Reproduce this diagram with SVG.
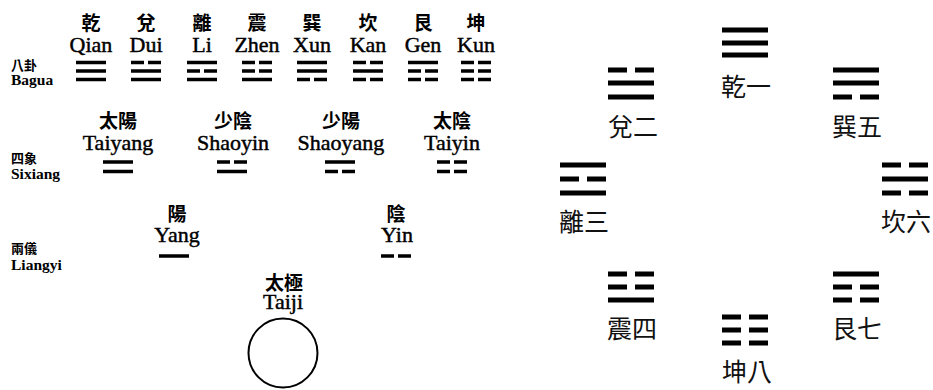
<svg xmlns="http://www.w3.org/2000/svg" xmlns:xlink="http://www.w3.org/1999/xlink" width="933" height="390" viewBox="0 0 933 390">
<style>
.zh{font-family:"Noto Sans CJK TC","Noto Sans CJK SC",sans-serif;font-weight:bold;font-size:19px;text-anchor:middle;fill:#000}
.en{font-family:"Liberation Serif",serif;font-size:22px;text-anchor:middle;fill:#000;stroke:#000;stroke-width:0.45px}
.lz{font-family:"Noto Sans CJK TC","Noto Sans CJK SC",sans-serif;font-weight:bold;font-size:13px;fill:#000}
.le{font-family:"Liberation Serif",serif;font-weight:bold;font-size:15.5px;fill:#000}
.rz{font-family:"Noto Sans CJK TC","Noto Sans CJK SC",sans-serif;font-size:25px;text-anchor:middle;fill:#111}
</style>
<defs>
<rect id="s" x="-15" y="-1.75" width="30" height="3.5" fill="#000"/>
<path id="b" d="M-15,-1.75h13v3.5h-13z M2,-1.75h13v3.5h-13z" fill="#000"/>
<rect id="S" x="-23" y="-2.5" width="46" height="5" fill="#000"/>
<path id="B" d="M-23,-2.5h19v5h-19z M4,-2.5h19v5h-19z" fill="#000"/>
</defs>
<rect width="933" height="390" fill="#fff"/>

<g id="row-labels">
<text class="lz" x="11" y="70">八卦</text><text class="le" x="11" y="85">Bagua</text>
<text class="lz" x="11" y="163">四象</text><text class="le" x="11" y="179">Sixiang</text>
<text class="lz" x="11" y="253">兩儀</text><text class="le" x="11" y="270">Liangyi</text>
</g>

<g id="bagua-qian"><text class="zh" x="91" y="30">乾</text><text class="en" x="91" y="51.5">Qian</text>
<use href="#s" x="91" y="62.5"/><use href="#s" x="91" y="71"/><use href="#s" x="91" y="79.5"/></g>
<g id="bagua-dui"><text class="zh" x="146" y="30">兌</text><text class="en" x="146" y="51.5">Dui</text>
<use href="#b" x="146" y="62.5"/><use href="#s" x="146" y="71"/><use href="#s" x="146" y="79.5"/></g>
<g id="bagua-li"><text class="zh" x="202" y="30">離</text><text class="en" x="202" y="51.5">Li</text>
<use href="#s" x="202" y="62.5"/><use href="#b" x="202" y="71"/><use href="#s" x="202" y="79.5"/></g>
<g id="bagua-zhen"><text class="zh" x="257" y="30">震</text><text class="en" x="257" y="51.5">Zhen</text>
<use href="#b" x="257" y="62.5"/><use href="#b" x="257" y="71"/><use href="#s" x="257" y="79.5"/></g>
<g id="bagua-xun"><text class="zh" x="312" y="30">巽</text><text class="en" x="312" y="51.5">Xun</text>
<use href="#s" x="312" y="62.5"/><use href="#s" x="312" y="71"/><use href="#b" x="312" y="79.5"/></g>
<g id="bagua-kan"><text class="zh" x="368" y="30">坎</text><text class="en" x="368" y="51.5">Kan</text>
<use href="#b" x="368" y="62.5"/><use href="#s" x="368" y="71"/><use href="#b" x="368" y="79.5"/></g>
<g id="bagua-gen"><text class="zh" x="423" y="30">艮</text><text class="en" x="423" y="51.5">Gen</text>
<use href="#s" x="423" y="62.5"/><use href="#b" x="423" y="71"/><use href="#b" x="423" y="79.5"/></g>
<g id="bagua-kun"><text class="zh" x="476" y="30">坤</text><text class="en" x="476" y="51.5">Kun</text>
<use href="#b" x="476" y="62.5"/><use href="#b" x="476" y="71"/><use href="#b" x="476" y="79.5"/></g>

<g id="sixiang-taiyang"><text class="zh" x="118" y="128">太陽</text><text class="en" x="118" y="149.5">Taiyang</text>
<use href="#s" x="118" y="162"/><use href="#s" x="118" y="171.5"/></g>
<g id="sixiang-shaoyin"><text class="zh" x="233" y="128">少陰</text><text class="en" x="233" y="149.5">Shaoyin</text>
<use href="#b" x="232" y="162"/><use href="#s" x="232" y="171.5"/></g>
<g id="sixiang-shaoyang"><text class="zh" x="341" y="128">少陽</text><text class="en" x="341" y="149.5">Shaoyang</text>
<use href="#s" x="340" y="162"/><use href="#b" x="340" y="171.5"/></g>
<g id="sixiang-taiyin"><text class="zh" x="452" y="128">太陰</text><text class="en" x="452" y="149.5">Taiyin</text>
<use href="#b" x="452" y="162"/><use href="#b" x="452" y="171.5"/></g>

<g id="liangyi-yang"><text class="zh" x="177" y="221">陽</text><text class="en" x="177" y="242">Yang</text>
<use href="#s" x="174" y="256"/></g>
<g id="liangyi-yin"><text class="zh" x="396" y="221">陰</text><text class="en" x="397" y="242">Yin</text>
<use href="#b" x="396" y="256"/></g>

<g id="taiji"><text class="zh" x="284" y="290">太極</text><text class="en" x="283" y="309">Taiji</text>
<circle cx="283" cy="353" r="34.5" fill="none" stroke="#000" stroke-width="2"/></g>

<g id="fx-qian"><use href="#S" x="745" y="30"/><use href="#S" x="745" y="43"/><use href="#S" x="745" y="55"/><text class="rz" x="746" y="96">乾一</text></g>
<g id="fx-dui"><use href="#B" x="631" y="70"/><use href="#S" x="631" y="83"/><use href="#S" x="631" y="97"/><text class="rz" x="633" y="136">兌二</text></g>
<g id="fx-xun"><use href="#S" x="856" y="70"/><use href="#S" x="856" y="83"/><use href="#B" x="856" y="97"/><text class="rz" x="857" y="136">巽五</text></g>
<g id="fx-li"><use href="#S" x="583" y="165"/><use href="#B" x="583" y="179"/><use href="#S" x="583" y="193"/><text class="rz" x="584" y="231">離三</text></g>
<g id="fx-kan"><use href="#B" x="905" y="165"/><use href="#S" x="905" y="179"/><use href="#B" x="905" y="193"/><text class="rz" x="906" y="231">坎六</text></g>
<g id="fx-zhen"><use href="#B" x="631" y="274"/><use href="#B" x="631" y="287"/><use href="#S" x="631" y="300"/><text class="rz" x="632" y="338">震四</text></g>
<g id="fx-gen"><use href="#S" x="856" y="274"/><use href="#B" x="856" y="287"/><use href="#B" x="856" y="300"/><text class="rz" x="857" y="338">艮七</text></g>
<g id="fx-kun"><use href="#B" x="745" y="317"/><use href="#B" x="745" y="330"/><use href="#B" x="745" y="343"/><text class="rz" x="747" y="381">坤八</text></g>

<g id="connectors"></g>
</svg>
